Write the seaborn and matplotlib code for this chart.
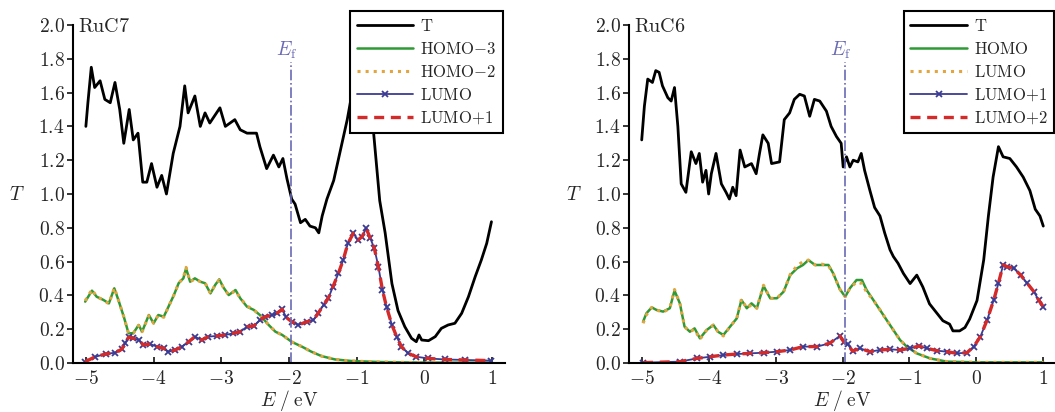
import matplotlib.pyplot as plt
import seaborn as sns
from matplotlib.ticker import FuncFormatter

# ---- RuC7 (left panel) ----
c7_t_e = [-5.0, -4.97, -4.92, -4.87, -4.79, -4.72, -4.64, -4.57, -4.50, -4.44, -4.36, -4.30, -4.23, -4.16,
          -4.10, -4.03, -3.95, -3.88, -3.81, -3.71, -3.61, -3.54, -3.49, -3.39, -3.31, -3.24, -3.17, -3.02,
          -2.94, -2.80, -2.72, -2.62, -2.48, -2.43, -2.33, -2.23, -2.15, -2.09, -2.03, -1.96, -1.91, -1.83,
          -1.76, -1.69, -1.61, -1.56, -1.51, -1.44, -1.34, -1.24, -1.14, -1.0, -0.9, -0.82, -0.75,
          -0.66, -0.58, -0.48, -0.39, -0.29, -0.19, -0.12, -0.08, -0.04, 0.06, 0.16, 0.25, 0.35, 0.45,
          0.55, 0.65, 0.75, 0.84, 0.92, 0.99]
c7_t = [1.40, 1.54, 1.75, 1.63, 1.67, 1.56, 1.54, 1.66, 1.50, 1.30, 1.50, 1.32, 1.36, 1.07,
        1.07, 1.18, 1.04, 1.11, 1.00, 1.24, 1.40, 1.64, 1.48, 1.58, 1.40, 1.48, 1.42, 1.51,
        1.40, 1.44, 1.38, 1.36, 1.36, 1.28, 1.15, 1.23, 1.16, 1.21, 1.09, 0.97, 0.94, 0.83,
        0.85, 0.81, 0.80, 0.77, 0.87, 0.97, 1.08, 1.26, 1.44, 1.75, 1.85, 1.70, 1.36,
        0.96, 0.77, 0.47, 0.31, 0.215, 0.146, 0.126, 0.166, 0.136, 0.132, 0.156, 0.205, 0.225, 0.235,
        0.294, 0.392, 0.511, 0.609, 0.708, 0.836]

c7_homo_e = [-5.01, -4.91, -4.84, -4.74, -4.66, -4.58, -4.52, -4.44, -4.37, -4.30, -4.22, -4.17, -4.07,
             -4.00, -3.93, -3.85, -3.78, -3.70, -3.63, -3.56, -3.52, -3.46, -3.39, -3.31, -3.24, -3.16,
             -3.09, -3.03, -2.97, -2.89, -2.79, -2.72, -2.62, -2.52, -2.43, -2.30, -2.20, -2.10, -2.01,
             -1.96, -1.81, -1.67, -1.52, -1.32, -1.08, -0.68, -0.2, 0.4, 1.0]
c7_homo3 = [0.363, 0.428, 0.392, 0.373, 0.353, 0.442, 0.373, 0.274, 0.176, 0.176, 0.225, 0.185, 0.284,
            0.235, 0.284, 0.274, 0.333, 0.402, 0.472, 0.501, 0.560, 0.481, 0.501, 0.481, 0.472, 0.412,
            0.462, 0.495, 0.448, 0.402, 0.432, 0.383, 0.333, 0.314, 0.284, 0.225, 0.185, 0.166, 0.14,
            0.125, 0.097, 0.067, 0.041, 0.021, 0.012, 0.006, 0.003, 0.002, 0.002]
c7_homo2 = [0.368, 0.435, 0.392, 0.373, 0.350, 0.445, 0.373, 0.274, 0.176, 0.176, 0.222, 0.185, 0.280,
            0.235, 0.284, 0.270, 0.333, 0.402, 0.472, 0.505, 0.566, 0.481, 0.497, 0.481, 0.475, 0.412,
            0.462, 0.490, 0.448, 0.402, 0.428, 0.383, 0.338, 0.314, 0.284, 0.225, 0.185, 0.166, 0.14,
            0.125, 0.097, 0.067, 0.041, 0.021, 0.012, 0.006, 0.003, 0.002, 0.002]

c7_lumo_e = [-5.01, -4.86, -4.71, -4.57, -4.47, -4.42, -4.37, -4.30, -4.22, -4.15, -4.05, -3.95, -3.85,
             -3.78, -3.68, -3.58, -3.48, -3.39, -3.29, -3.19, -3.07, -2.94, -2.82, -2.72, -2.62, -2.52,
             -2.43, -2.35, -2.25, -2.18, -2.10, -2.04, -1.96, -1.86, -1.74, -1.64, -1.57, -1.49, -1.42,
             -1.35, -1.27, -1.20, -1.13, -1.05, -0.98, -0.92, -0.86, -0.80, -0.74, -0.68, -0.62, -0.56,
             -0.48, -0.41, -0.34, -0.24, -0.12, 0.06, 0.30, 0.60, 0.99]
c7_lumo = [0.008, 0.037, 0.053, 0.061, 0.081, 0.117, 0.152, 0.146, 0.136, 0.107, 0.112, 0.097, 0.087,
           0.067, 0.077, 0.097, 0.126, 0.156, 0.136, 0.156, 0.16, 0.166, 0.176, 0.185, 0.215, 0.219,
           0.254, 0.274, 0.284, 0.294, 0.317, 0.27, 0.244, 0.225, 0.244, 0.254, 0.294, 0.343, 0.383,
           0.452, 0.531, 0.609, 0.708, 0.767, 0.728, 0.748, 0.797, 0.738, 0.679, 0.570, 0.432, 0.333,
           0.225, 0.156, 0.097, 0.057, 0.037, 0.027, 0.021, 0.018, 0.014]
c7_lumo1 = c7_lumo

# ---- RuC6 (right panel) ----
c6_t_e = [-5.0, -4.96, -4.91, -4.84, -4.79, -4.74, -4.69, -4.61, -4.56, -4.51, -4.46, -4.41, -4.34,
          -4.26, -4.19, -4.14, -4.09, -4.04, -4.0, -3.96, -3.89, -3.81, -3.74, -3.69, -3.64, -3.59,
          -3.53, -3.46, -3.36, -3.29, -3.24, -3.19, -3.11, -3.06, -2.94, -2.87, -2.79, -2.72, -2.64,
          -2.57, -2.49, -2.42, -2.34, -2.24, -2.17, -2.09, -2.02, -1.99, -1.94, -1.89, -1.84, -1.77,
          -1.72, -1.67, -1.59, -1.52, -1.44, -1.37, -1.29, -1.24, -1.17, -1.09, -0.99, -0.89, -0.80,
          -0.70, -0.60, -0.50, -0.40, -0.35, -0.25, -0.17, -0.10, 0.01, 0.11, 0.18, 0.25, 0.33, 0.40,
          0.50, 0.60, 0.70, 0.80, 0.88, 0.95, 1.0]
c6_t = [1.32, 1.52, 1.68, 1.66, 1.73, 1.72, 1.64, 1.57, 1.55, 1.63, 1.40, 1.06, 1.01,
        1.25, 1.18, 1.24, 1.07, 1.14, 1.00, 1.12, 1.24, 1.06, 1.01, 0.97, 1.04, 0.99,
        1.26, 1.16, 1.18, 1.12, 1.24, 1.35, 1.30, 1.18, 1.19, 1.44, 1.48, 1.56, 1.59,
        1.58, 1.46, 1.56, 1.55, 1.49, 1.40, 1.34, 1.30, 1.16, 1.22, 1.16, 1.20, 1.19,
        1.24, 1.14, 1.02, 0.92, 0.87, 0.77, 0.67, 0.63, 0.59, 0.53, 0.47, 0.52, 0.45,
        0.35, 0.30, 0.25, 0.23, 0.19, 0.19, 0.21, 0.26, 0.37, 0.61, 0.87, 1.10, 1.28, 1.22,
        1.21, 1.16, 1.10, 1.02, 0.91, 0.87, 0.81]

c6_homo_e = [-4.98, -4.93, -4.85, -4.78, -4.68, -4.58, -4.51, -4.43, -4.36, -4.28, -4.21, -4.13, -4.03,
             -3.93, -3.86, -3.78, -3.68, -3.58, -3.51, -3.43, -3.36, -3.28, -3.18, -3.08, -2.98, -2.88,
             -2.78, -2.68, -2.59, -2.51, -2.41, -2.31, -2.21, -2.14, -2.04, -1.96, -1.89, -1.79, -1.71,
             -1.64, -1.54, -1.44, -1.34, -1.24, -1.14, -1.04, -0.89, -0.69, -0.44, 0.0, 0.5, 1.0]
c6_homo = [0.244, 0.294, 0.329, 0.314, 0.304, 0.324, 0.428, 0.353, 0.215, 0.185, 0.205, 0.146, 0.195,
           0.225, 0.185, 0.166, 0.215, 0.264, 0.373, 0.324, 0.353, 0.324, 0.456, 0.383, 0.383, 0.422,
           0.521, 0.560, 0.580, 0.609, 0.580, 0.580, 0.580, 0.531, 0.437, 0.392, 0.442, 0.491, 0.491,
           0.432, 0.373, 0.314, 0.254, 0.195, 0.136, 0.097, 0.057, 0.027, 0.008, 0.004, 0.004, 0.004]
c6_lumo = [0.235, 0.285, 0.329, 0.314, 0.300, 0.324, 0.435, 0.353, 0.215, 0.185, 0.200, 0.140, 0.195,
           0.225, 0.185, 0.160, 0.215, 0.264, 0.378, 0.324, 0.345, 0.324, 0.460, 0.383, 0.383, 0.422,
           0.525, 0.575, 0.600, 0.609, 0.580, 0.585, 0.575, 0.531, 0.437, 0.392, 0.442, 0.480, 0.470,
           0.420, 0.373, 0.314, 0.254, 0.195, 0.136, 0.097, 0.057, 0.027, 0.008, 0.004, 0.004, 0.004]

c6_lumo1_e = [-4.98, -4.43, -4.18, -3.98, -3.78, -3.58, -3.38, -3.18, -2.98, -2.78, -2.59, -2.38, -2.19,
              -2.04, -1.98, -1.92, -1.85, -1.74, -1.59, -1.44, -1.29, -1.14, -0.99, -0.86, -0.74, -0.59,
              -0.44, -0.29, -0.14, -0.04, 0.06, 0.16, 0.26, 0.33, 0.40, 0.46, 0.56, 0.66, 0.76, 0.86,
              0.93, 1.0]
c6_lumo1 = [0.002, 0.008, 0.027, 0.037, 0.047, 0.053, 0.057, 0.061, 0.067, 0.077, 0.097, 0.097, 0.117,
            0.16, 0.125, 0.11, 0.07, 0.087, 0.067, 0.077, 0.081, 0.077, 0.087, 0.10, 0.087, 0.073,
            0.067, 0.057, 0.061, 0.097, 0.156, 0.254, 0.373, 0.472, 0.580, 0.570, 0.560, 0.521, 0.472, 0.422,
            0.373, 0.333]
c6_lumo2 = c6_lumo1

E_F = -1.97
GREEN = '#2f9a35'
ORANGE = '#e2a540'
BLUE = '#3b3b93'
RED = '#d42a2a'
EF_COLOR = '#6a6ab4'

sns.set_style('ticks')
plt.rcParams['mathtext.fontset'] = 'cm'
plt.rcParams['font.family'] = ['DejaVu Serif']

fig = plt.figure(figsize=(10.55, 4.12), dpi=100)
ax1 = fig.add_axes([73 / 1055, 1 - 363 / 412, 432 / 1055, 338 / 412])
ax2 = fig.add_axes([629 / 1055, 1 - 363 / 412, 427 / 1055, 338 / 412])


def draw_panel(ax, name, t_e, t, a_e, a, b, a_lab, b_lab, c_e, c, d, c_lab, d_lab):
    sns.lineplot(x=t_e, y=t, ax=ax, color='black', lw=2.0, sort=False, estimator=None, label='$\\mathrm{T}$')
    sns.lineplot(x=a_e, y=a, ax=ax, color=GREEN, lw=1.8, sort=False, estimator=None, label=a_lab)
    sns.lineplot(x=a_e, y=b, ax=ax, color=ORANGE, lw=2.2, linestyle=':', sort=False, estimator=None, label=b_lab)
    # seaborn drops the marker here, so this one goes through matplotlib directly
    ax.plot(c_e, c, color=BLUE, lw=1.3, marker='x', markersize=5, markeredgewidth=1.3, label=c_lab)
    sns.lineplot(x=c_e, y=d, ax=ax, color=RED, lw=2.4, linestyle=(0, (3, 2)), sort=False, estimator=None,
                 label=d_lab)

    ax.axvline(E_F, ymin=0, ymax=1.78 / 2.0, color=EF_COLOR, lw=1.2, linestyle='-.')
    ax.text(E_F - 0.06, 1.85, '$E_\\mathrm{f}$', color=EF_COLOR, ha='center', va='center', fontsize=14)
    ax.text(-5.12, 1.99, '$\\mathrm{' + name + '}$', ha='left', va='center', fontsize=14.5)

    ax.set_xlim(-5.19, 1.19)
    ax.set_ylim(0, 2.0)
    ax.set_xticks([-5, -4, -3, -2, -1, 0, 1])
    ax.set_yticks([0.0, 0.2, 0.4, 0.6, 0.8, 1.0, 1.2, 1.4, 1.6, 1.8, 2.0])
    ax.xaxis.set_major_formatter(FuncFormatter(lambda v, p: f'${v:g}$'))
    ax.yaxis.set_major_formatter(FuncFormatter(lambda v, p: f'${v:.1f}$'))
    ax.tick_params(axis='x', direction='in', length=4, width=1.3, labelsize=14, pad=5)
    ax.tick_params(axis='y', direction='out', length=4, width=1.3, labelsize=14, pad=2)

    sns.despine(ax=ax)
    for s in ['left', 'bottom']:
        ax.spines[s].set_linewidth(1.5)
        ax.spines[s].set_color('black')

    ax.set_xlabel('$E\\;/\\;\\mathrm{eV}$', fontsize=14)
    ax.set_ylabel('$T$', fontsize=14, rotation=0)
    ax.xaxis.set_label_coords(0.5, -0.075)
    ax.yaxis.set_label_coords(-0.13, 0.47)

    leg = ax.legend(loc='upper right', bbox_to_anchor=(0.995, 1.04), frameon=True, fancybox=False,
                    edgecolor='black', framealpha=1, fontsize=12, handlelength=3.4, handletextpad=0.4,
                    labelspacing=0.35, borderpad=0.4, borderaxespad=0)
    leg.get_frame().set_linewidth(1.5)


draw_panel(ax1, 'RuC7', c7_t_e, c7_t, c7_homo_e, c7_homo3, c7_homo2,
           '$\\mathrm{HOMO{-}3}$', '$\\mathrm{HOMO{-}2}$',
           c7_lumo_e, c7_lumo, c7_lumo1, '$\\mathrm{LUMO}$', '$\\mathrm{LUMO{+}1}$')
draw_panel(ax2, 'RuC6', c6_t_e, c6_t, c6_homo_e, c6_homo, c6_lumo,
           '$\\mathrm{HOMO}$', '$\\mathrm{LUMO}$',
           c6_lumo1_e, c6_lumo1, c6_lumo2, '$\\mathrm{LUMO{+}1}$', '$\\mathrm{LUMO{+}2}$')

fig.savefig('out.png', dpi=100)
